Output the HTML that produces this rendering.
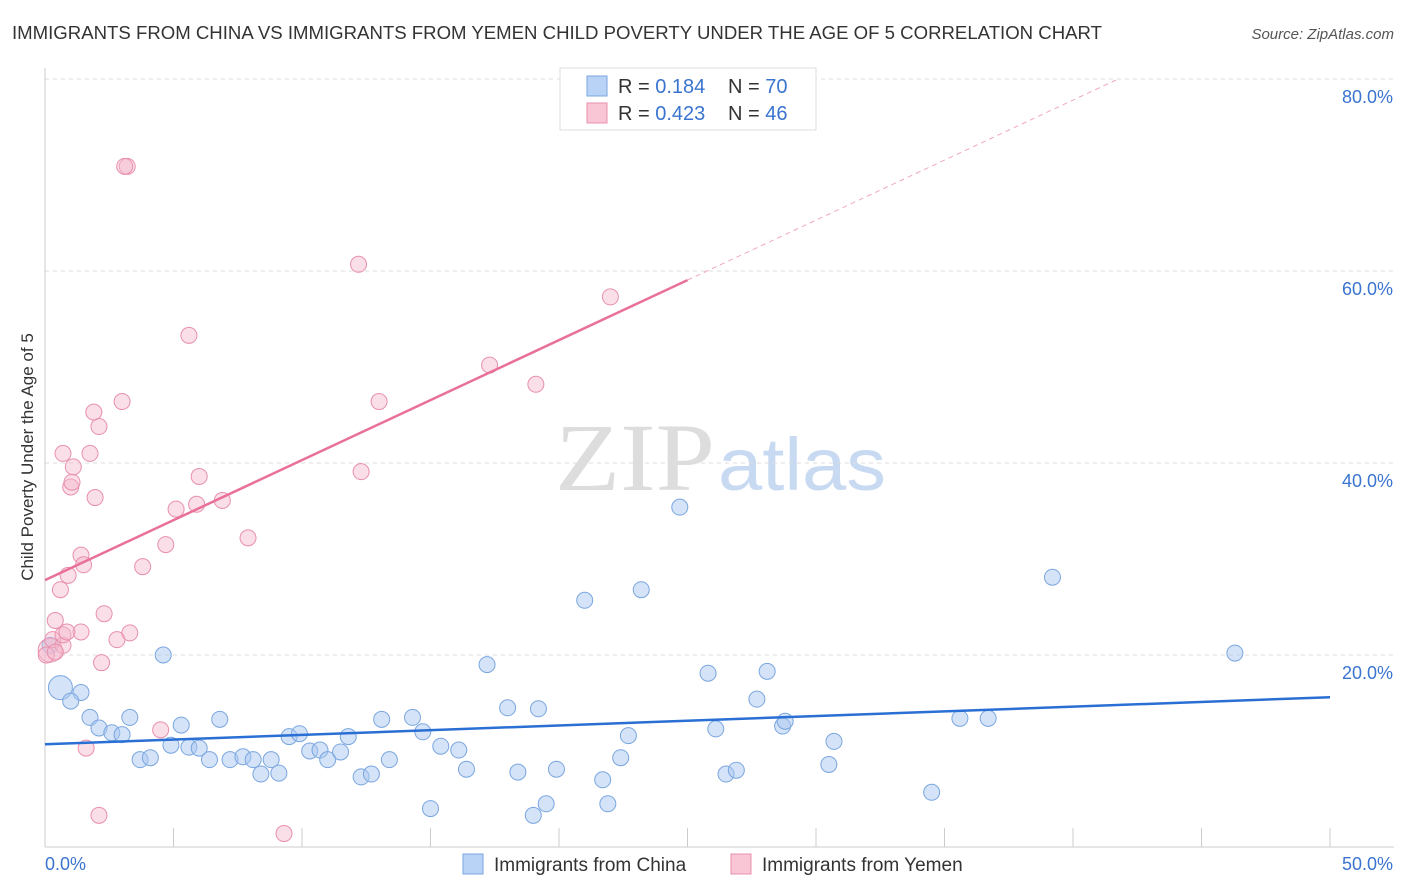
<!DOCTYPE html>
<html><head><meta charset="utf-8"><style>
body{margin:0;background:#fff;font-family:"Liberation Sans",sans-serif}
svg{display:block}
</style></head><body>
<svg id="c" width="1406" height="892">
<text x="12" y="39" font-size="18" fill="#333" textLength="1090" lengthAdjust="spacingAndGlyphs">IMMIGRANTS FROM CHINA VS IMMIGRANTS FROM YEMEN CHILD POVERTY UNDER THE AGE OF 5 CORRELATION CHART</text>
<text x="1394" y="39" font-size="15" fill="#555" font-style="italic" text-anchor="end">Source: ZipAtlas.com</text>
<text x="33" y="457" font-size="17" fill="#333" text-anchor="middle" transform="rotate(-90 33 457)">Child Poverty Under the Age of 5</text>
<text x="555" y="490" font-size="96" fill="#ddd" textLength="160" lengthAdjust="spacingAndGlyphs" font-family="Liberation Serif">ZIP</text>
<text x="718" y="490" font-size="74" fill="#c8daf2" textLength="168" lengthAdjust="spacingAndGlyphs">atlas</text>
<g id="grid"></g><g id="axes"></g><g id="pts"></g><g id="lines"></g>
<g>
<rect x="560" y="68" width="256" height="62" fill="#fff" stroke="#ddd"/>
<rect x="587" y="76" width="20" height="20" fill="#b8d3f5" stroke="#7aa6e0"/>
<text x="618" y="93" font-size="20" fill="#333">R = <tspan fill="#3a74d0">0.184</tspan></text>
<text x="728" y="93" font-size="20" fill="#333">N = <tspan fill="#3a74d0">70</tspan></text>
<rect x="587" y="103" width="20" height="20" fill="#f9c6d5" stroke="#e890ac"/>
<text x="618" y="120" font-size="20" fill="#333">R = <tspan fill="#3a74d0">0.423</tspan></text>
<text x="728" y="120" font-size="20" fill="#333">N = <tspan fill="#3a74d0">46</tspan></text>
</g>
<g>
<rect x="463" y="854" width="20" height="20" fill="#b8d3f5" stroke="#7aa6e0"/>
<text x="494" y="871" font-size="19" fill="#333">Immigrants from China</text>
<rect x="731" y="854" width="20" height="20" fill="#f9c6d5" stroke="#e890ac"/>
<text x="762" y="871" font-size="19" fill="#333">Immigrants from Yemen</text>
</g>
</svg>
<script>
const yTicks=[20,40,60,80];
const xTickLabels=["0.0%","50.0%"];
const chinaX=[0.6,1.4,1.0,1.75,2.1,2.6,3.0,3.3,3.7,4.1,4.6,4.9,5.3,5.6,6.0,6.4,6.8,7.2,7.7,8.1,8.4,8.8,9.1,9.5,9.9,10.3,10.7,11.0,11.5,11.8,12.3,12.7,13.1,13.4,14.3,14.7,15.0,15.4,16.1,16.4,17.2,18.0,18.4,19.0,19.2,19.5,19.9,21.0,21.7,21.9,22.4,22.7,23.2,24.7,25.8,26.1,26.5,26.9,27.7,28.1,28.7,28.8,30.5,30.7,34.5,35.6,36.7,39.2,46.3,0.2];
const chinaY=[16.6,16.1,15.2,13.5,12.4,11.9,11.7,13.5,9.1,9.3,20.0,10.6,12.7,10.4,10.3,9.1,13.3,9.1,9.4,9.1,7.6,9.1,7.7,11.5,11.8,10.0,10.1,9.1,9.9,11.5,7.3,7.6,13.3,9.1,13.5,12.0,4.0,10.5,10.1,8.1,19.0,14.5,7.8,3.3,14.4,4.5,8.1,25.7,7.0,4.5,9.3,11.6,26.8,35.4,18.1,12.3,7.6,8.0,15.4,18.3,12.6,13.1,8.6,11.0,5.7,13.4,13.4,28.1,20.2,21.0];
const yemenX=[0.2,0.3,0.4,0.6,0.7,0.7,0.9,0.7,1.0,1.05,1.1,1.4,1.4,1.5,1.6,1.75,1.9,1.95,2.1,2.1,2.2,2.3,2.8,3.0,3.2,3.3,3.8,4.5,4.7,5.1,5.6,5.9,6.0,6.9,7.9,9.3,12.2,12.3,13.0,17.3,19.1,22.0,3.1,0.85,0.05,0.4];
const yemenY=[20.5,21.6,23.6,26.8,21.0,22.1,28.3,41.0,37.5,38.0,39.6,30.4,22.4,29.4,10.3,41.0,45.3,36.4,3.3,43.8,19.2,24.3,21.6,46.4,70.9,22.3,29.2,12.2,31.5,35.2,53.3,35.7,38.6,36.1,32.2,1.4,60.7,39.1,46.4,50.2,48.2,57.3,70.9,22.4,20.0,20.3];
const chinaTrend=[10.7,15.6];
const yemenTrend=[27.8,1.25];
const NS="http://www.w3.org/2000/svg";
const X=v=>45+v*25.7, Y=v=>847-v*9.6;
function mk(t,a,p){const e=document.createElementNS(NS,t);for(const k in a)e.setAttribute(k,a[k]);document.getElementById(p).appendChild(e);return e;}
yTicks.forEach(t=>{
 const g=mk('line',{x1:45,x2:1394,y1:Y(t),y2:Y(t),stroke:'#ddd','stroke-dasharray':'4 4'},'grid');
 
 
 const l=mk('text',{x:1393,y:Y(t)+24,'font-size':18,fill:'#3a74d0','text-anchor':'end'},'axes');
 l.textContent=t.toFixed(1)+'%';
 
 
});
mk('line',{x1:45,x2:45,y1:68,y2:847,stroke:'#ccc'},'axes');
mk('line',{x1:45,x2:1394,y1:847,y2:847,stroke:'#ccc'},'axes');
for(let i=0;i<=10;i++){mk('line',{x1:X(i*5),x2:X(i*5),y1:828,y2:847,stroke:'#ccc'},'axes');}
[[0,'start',45],[50,'end',1393]].forEach((d,i)=>{const t=mk('text',{x:d[2],y:870,'font-size':18,fill:'#3a74d0','text-anchor':d[1]},'axes');t.textContent=xTickLabels[i];
 
 });
chinaX.forEach((x,i)=>{const c=mk('circle',{cx:X(x),cy:Y(chinaY[i]),r:i==0?12:8,fill:'rgba(170,200,240,0.5)',stroke:'#7aa6e0','stroke-width':1},'pts');
 
 });
yemenX.forEach((x,i)=>{const c=mk('circle',{cx:X(x),cy:Y(yemenY[i]),r:i==0?12:8,fill:'rgba(245,184,203,0.45)',stroke:'#e890ac','stroke-width':1},'pts');
 
 });
const bl=mk('line',{x1:X(0),y1:Y(chinaTrend[0]),x2:X(50),y2:Y(chinaTrend[1]),stroke:'#2a6fd4','stroke-width':2.5},'lines');


const yAt=x=>yemenTrend[0]+yemenTrend[1]*x;
const pl=mk('line',{x1:X(0),y1:Y(yAt(0)),x2:X(25),y2:Y(yAt(25)),stroke:'#e8709a','stroke-width':2.5},'lines');


const xe=(80-yemenTrend[0])/yemenTrend[1];
const pd=mk('line',{x1:X(25),y1:Y(yAt(25)),x2:X(xe),y2:Y(80),stroke:'#f0a8c0','stroke-width':1,'stroke-dasharray':'5 4'},'lines');


</script>
</body></html>
